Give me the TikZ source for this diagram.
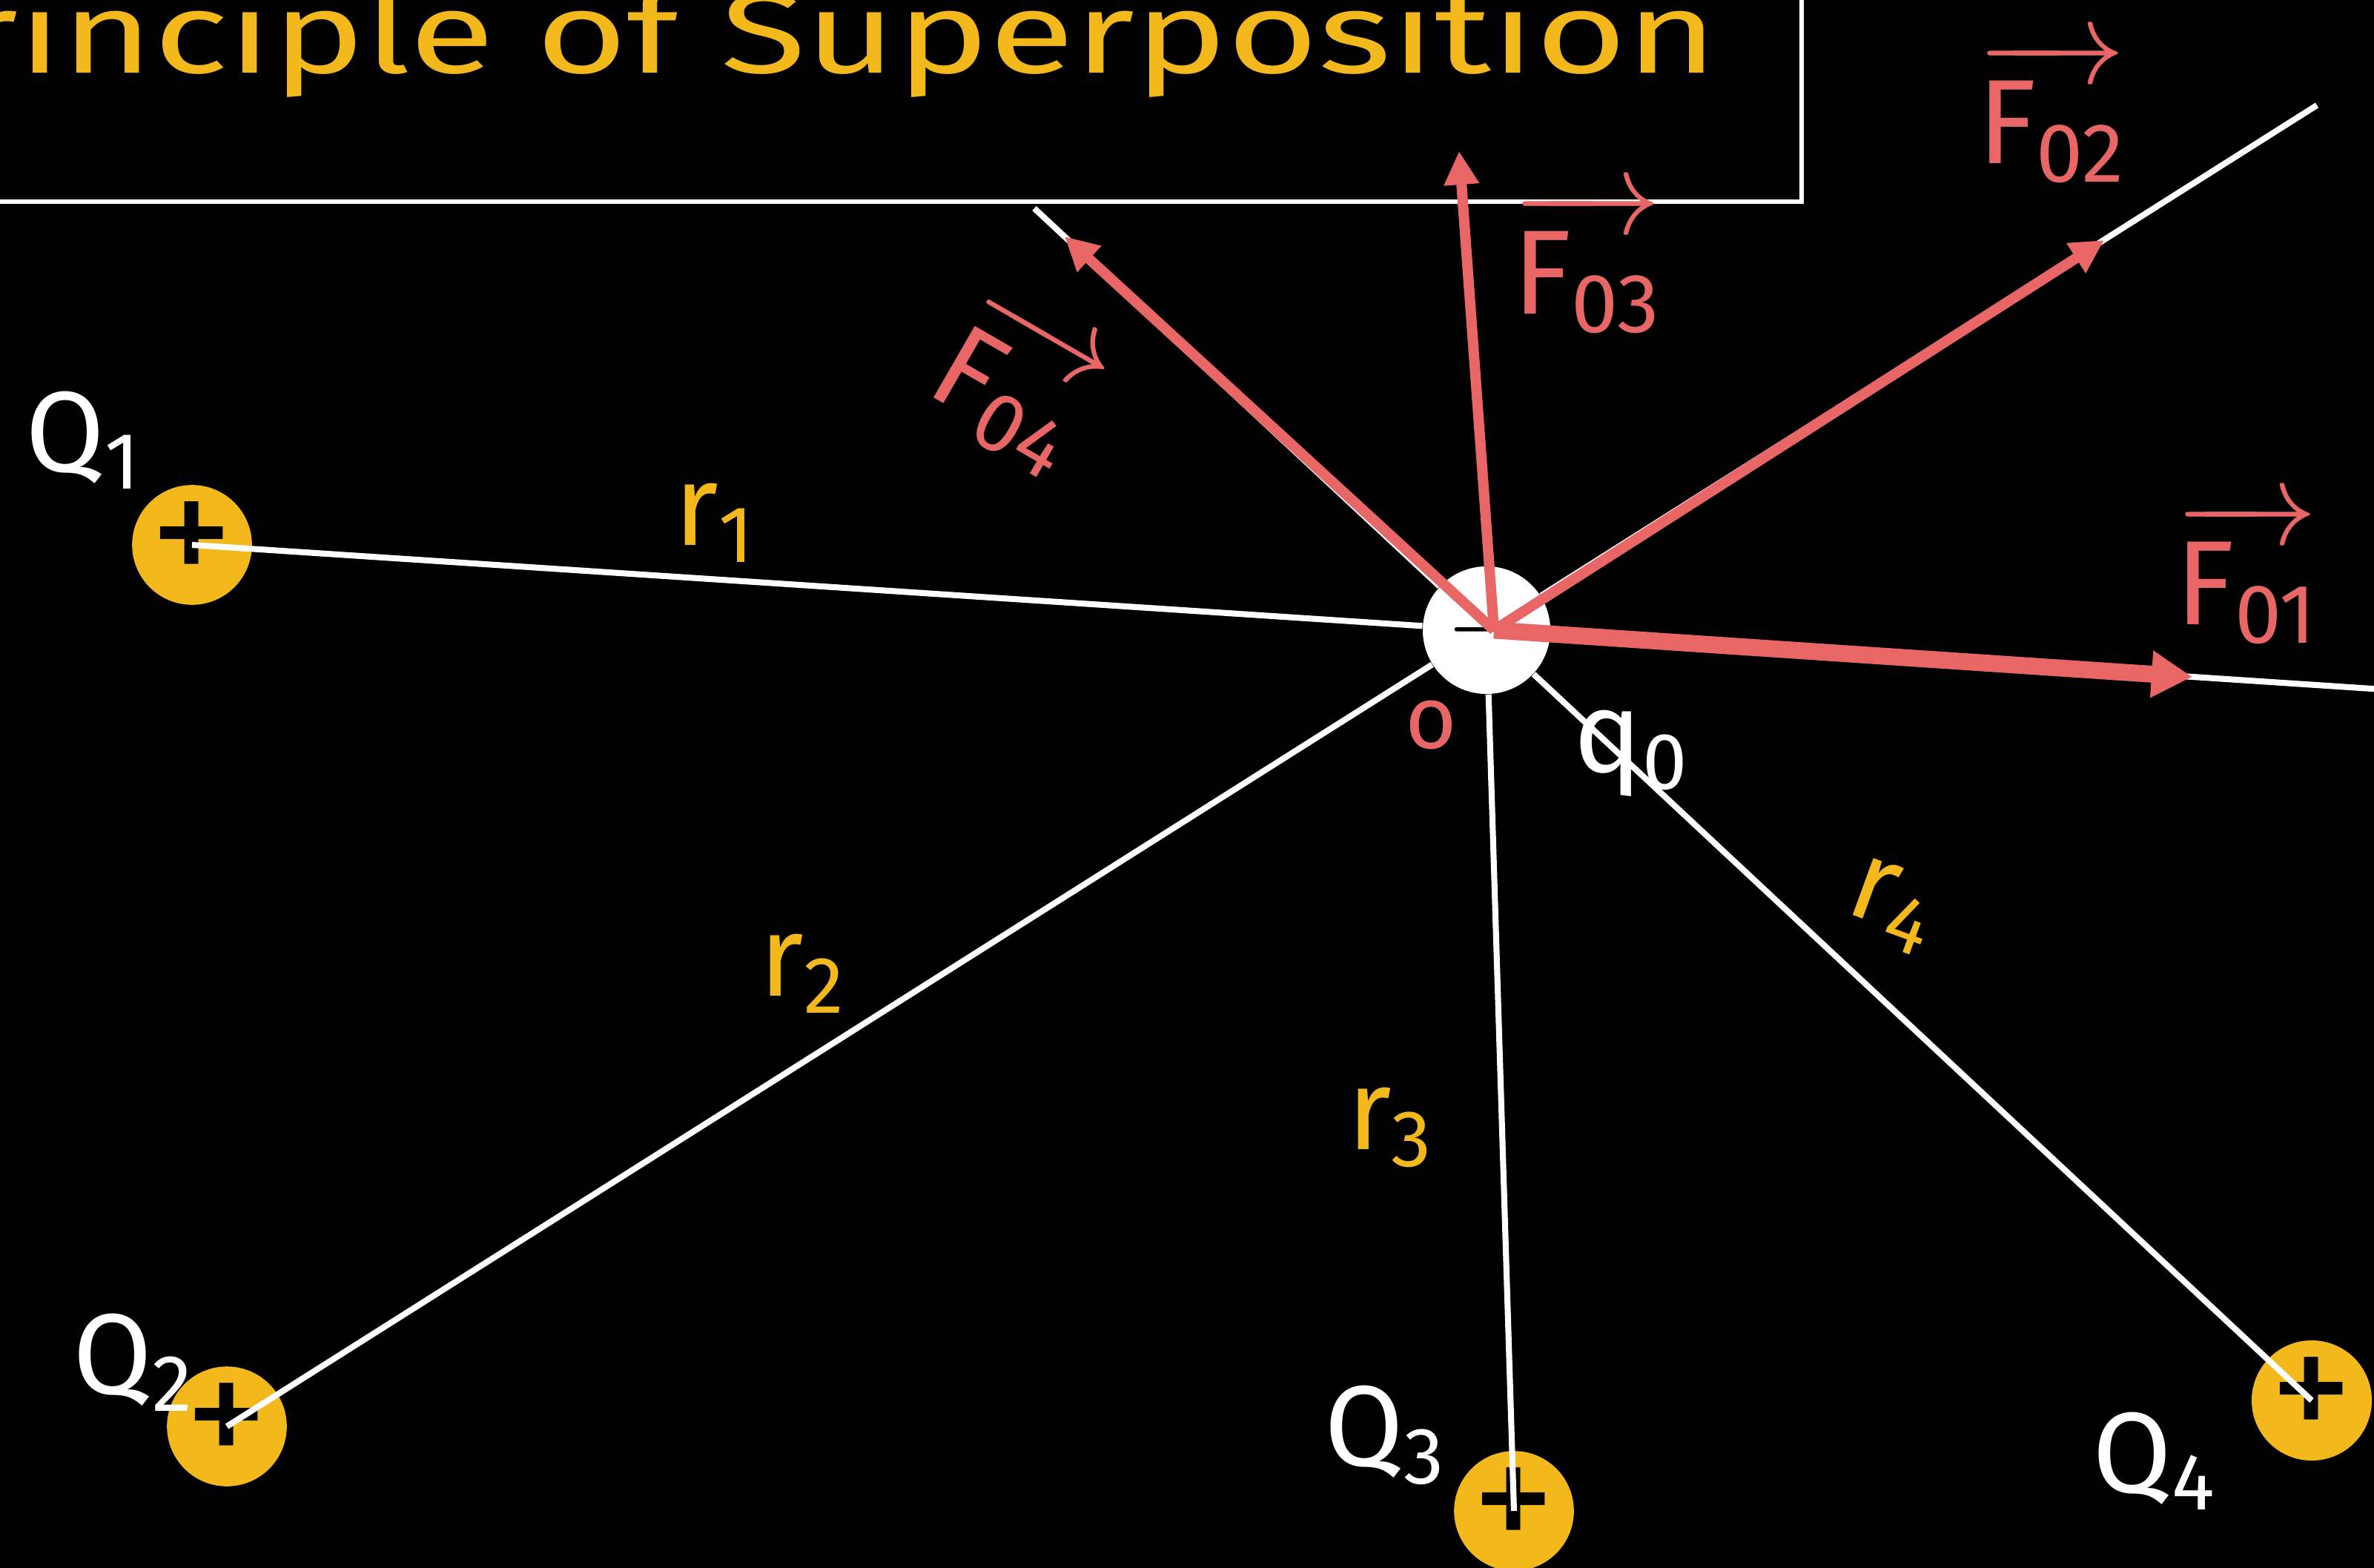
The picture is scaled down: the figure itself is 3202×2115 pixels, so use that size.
\RequirePackage{fix-cm}
\documentclass[tikz,border=0pt]{standalone}
\usepackage{fontspec}
\setmainfont{Fira Sans}
\usetikzlibrary{arrows.meta}
\definecolor{boardyellow}{HTML}{F2B81C}
\definecolor{boardred}{HTML}{E86666}

\begin{document}
\begin{tikzpicture}[
  x=0.01cm,
  y=-0.01cm,
  every node/.style={font=\fontsize{44}{44}\selectfont, white},
  link/.style={white, line width=2.3pt},
  titlebox/.style={white, line width=1.7pt},
  force/.style={boardred, line width=4pt,
                -{Triangle[length=0.45cm, width=0.45cm]}},
  forcebig/.style={boardred, line width=6.5pt,
                   -{Triangle[length=0.55cm, width=0.6cm]}},
  poscharge/.style={circle, fill=boardyellow, minimum size=1.52cm,
                    inner sep=0pt, text=black, font=\fontsize{64}{64}\selectfont},
  negcharge/.style={circle, fill=white, minimum size=1.72cm,
                    inner sep=0pt, text=black, font=\fontsize{40}{40}\selectfont},
  rlabel/.style={boardyellow},
  flabel/.style={boardred, font=\fontsize{46}{46}\selectfont}
]

  %% ---- board -----------------------------------------------------------
  \useasboundingbox (0,0) rectangle (3202,2115);
  \clip (0,0) rectangle (3202,2115);
  \fill[black] (0,0) rectangle (3202,2115);

  %% ---- title, cut off at the top and on the left -----------------------
  \node[boardyellow, anchor=base east, inner sep=0pt] (title) at (2318,98)
    {\scalebox{1.36}[1]{Principle of Superposition}};
  \draw[titlebox] (-10,272) -- (2430,272) -- (2430,-10);

  %% ---- charges ---------------------------------------------------------
  \node[poscharge] (Q1) at (259,735) {+};
  \node[poscharge] (Q2) at (306,1924) {+};
  \node[poscharge] (Q3) at (2042,2038) {+};
  \node[poscharge, minimum size=1.62cm] (Q4) at (3118,1889) {+};
  % the minus sits left of the point where the forces start
  \node[negcharge] (O) at (2005,850) {\raisebox{0.14cm}{$-$}\hspace{0.7cm}};

  % free ends of the lines and tips of the forces
  \coordinate (e1) at (3230,931);
  \coordinate (e2) at (3125,142);
  \coordinate (e4) at (1395,281);
  \coordinate (t1) at (2957,913);
  \coordinate (t2) at (2838,324);
  \coordinate (t3) at (1968,204);
  \coordinate (t4) at (1436,319);

  %% ---- lines from each charge through O --------------------------------
  \draw[link] (Q1.center) -- (O);
  \draw[link] (O) -- (e1);
  \draw[link] (Q2.center) -- (O);
  \draw[link] (O) -- (e2);
  \draw[link] (Q3.center) -- (O);
  \draw[link] (Q4.center) -- (O);
  \draw[link] (O) -- (e4);

  %% ---- forces on q0 ----------------------------------------------------
  \draw[forcebig] ([xshift=0.1cm]O.center) -- (t1);
  \draw[force] ([xshift=0.1cm]O.center) -- (t2);
  \draw[force] ([xshift=0.1cm]O.center) -- (t3);
  \draw[force] ([xshift=0.1cm]O.center) -- (t4);

  %% ---- labels ----------------------------------------------------------
  \node (labQ1) at (112,594) {Q\textsubscript{1}};
  \node (labQ2) at (180,1838) {Q\textsubscript{2}};
  \node (labQ3) at (1868,1936) {Q\textsubscript{3}};
  \node (labQ4) at (2906,1971) {Q\textsubscript{4}};
  \node (labq0) at (2200,1016) {q\textsubscript{0}};
  \node[boardred, font=\fontsize{34}{34}\selectfont] (labO) at (1930,978) {o};

  \node[rlabel] (labr1) at (964,705) {r\textsubscript{1}};
  \node[rlabel] (labr2) at (1082,1313) {r\textsubscript{2}};
  \node[rlabel] (labr3) at (1875,1521) {r\textsubscript{3}};
  \node[rlabel, rotate=-20] (labr4) at (2552,1222) {r\textsubscript{4}};

  \node[flabel] (labF01) at (3030,772) {$\overrightarrow{\mbox{F\textsubscript{01}}}$};
  \node[flabel] (labF02) at (2767,150) {$\overrightarrow{\mbox{F\textsubscript{02}}}$};
  \node[flabel] (labF03) at (2140,353) {$\overrightarrow{\mbox{F\textsubscript{03}}}$};
  \node[flabel, rotate=-30] (labF04) at (1370,518) {$\overrightarrow{\mbox{F\textsubscript{04}}}$};

\end{tikzpicture}
\end{document}
